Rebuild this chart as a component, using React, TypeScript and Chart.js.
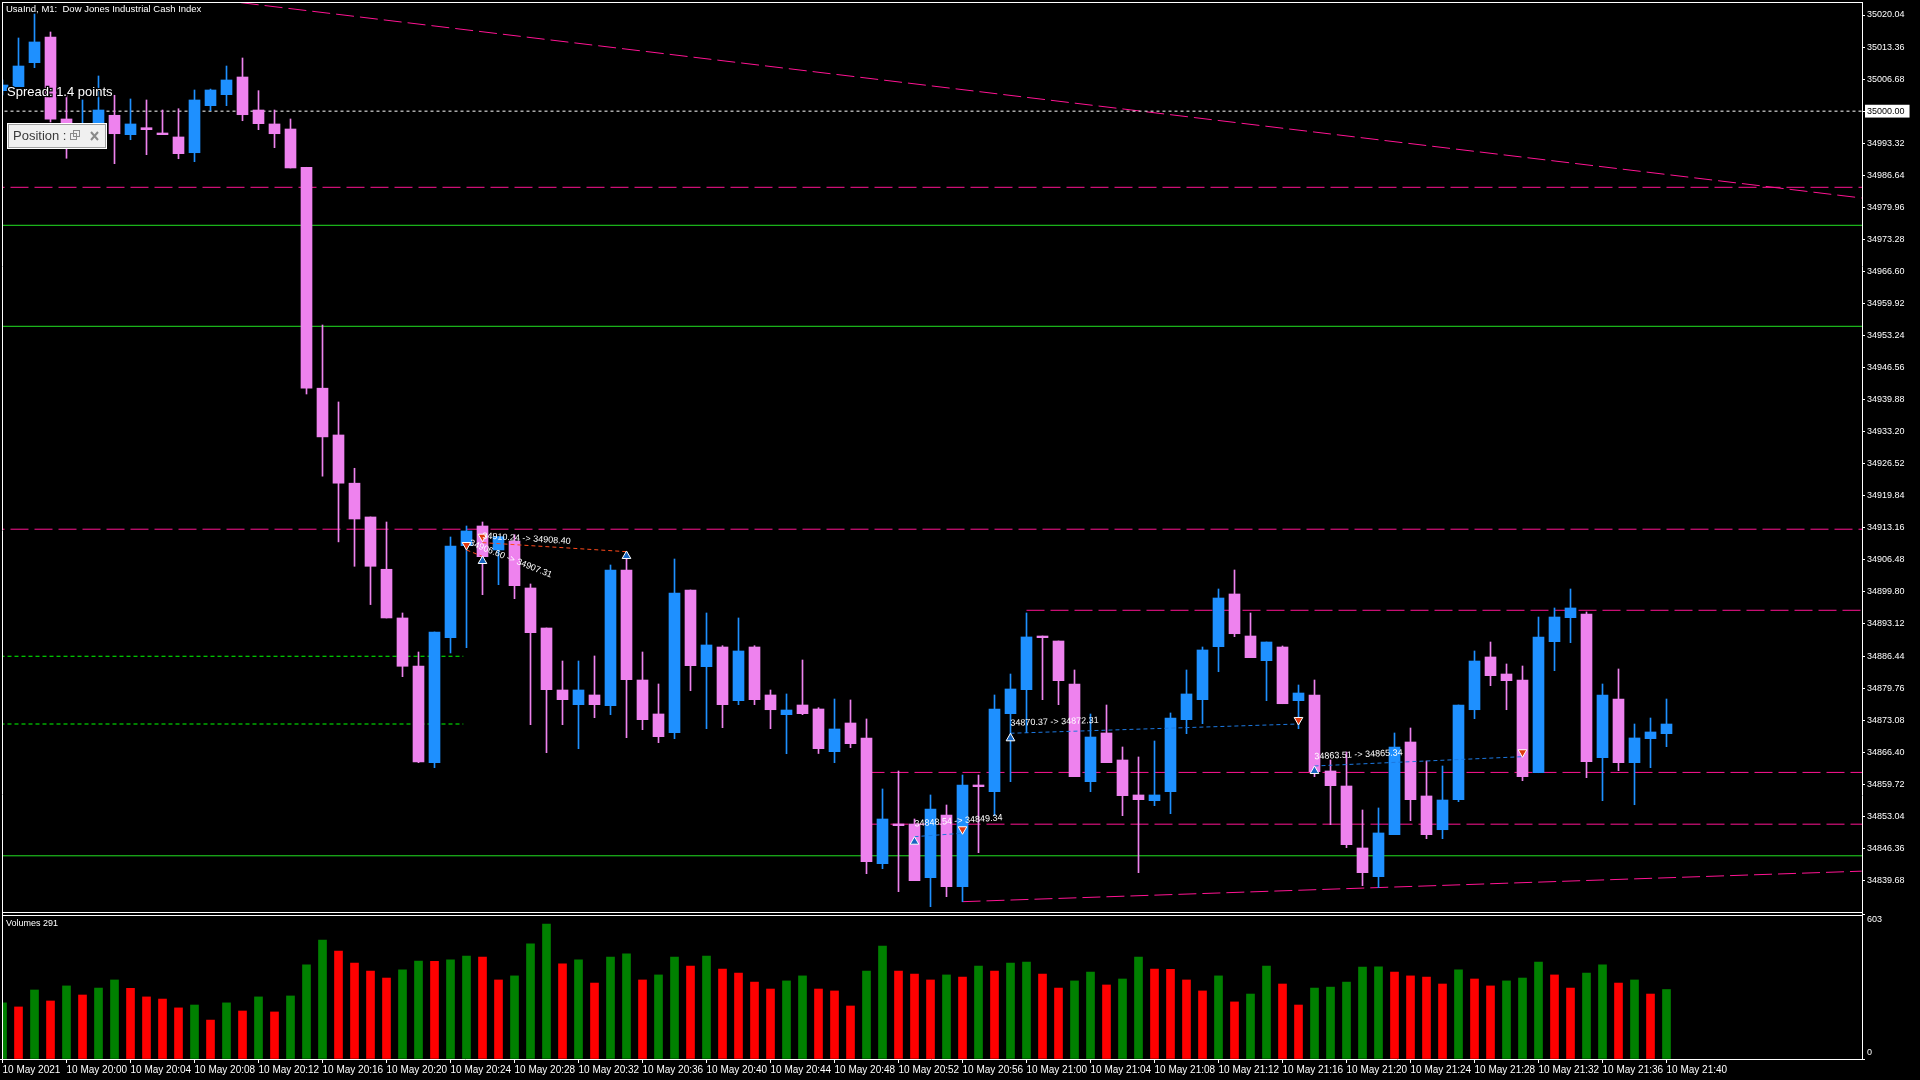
import { useEffect, useRef } from "react";
import { Chart, registerables } from "chart.js";

Chart.register(...registerables);

// time axis: one label every 4 one-minute bars
const timeLabels = [
  "10 May 2021", "10 May 20:00", "10 May 20:04", "10 May 20:08", "10 May 20:12", "10 May 20:16",
  "10 May 20:20", "10 May 20:24", "10 May 20:28", "10 May 20:32", "10 May 20:36", "10 May 20:40",
  "10 May 20:44", "10 May 20:48", "10 May 20:52", "10 May 20:56", "10 May 21:00", "10 May 21:04",
  "10 May 21:08", "10 May 21:12", "10 May 21:16", "10 May 21:20", "10 May 21:24", "10 May 21:28",
  "10 May 21:32", "10 May 21:36", "10 May 21:40",
];
const labelEvery = 4;

// M1 bars, 19:56 .. 21:40
const openP = [
  35004.27, 35005.10, 35010.10, 35015.46, 34998.37, 34993.99, 34996.49, 34999.14, 34995.10, 34996.55,
  34995.45, 34994.62, 34991.34, 35001.14, 35003.43, 35007.12, 35000.24, 34997.33, 34996.28, 34988.30,
  34942.26, 34932.51, 34922.46, 34915.42, 34904.52, 34894.37, 34884.36, 34864.21, 34890.26, 34909.44,
  34913.54, 34908.54, 34910.41, 34900.62, 34892.28, 34879.36, 34876.30, 34878.32, 34876.09, 34904.37,
  34881.44, 34874.36, 34870.46, 34900.20, 34884.22, 34888.32, 34877.13, 34888.32, 34878.32, 34874.21,
  34876.23, 34875.40, 34866.50, 34872.48, 34869.36, 34843.16, 34851.43, 34851.43, 34840.24, 34853.31,
  34838.36, 34859.56, 34858.16, 34874.42, 34879.42, 34890.61, 34889.57, 34880.61, 34860.25, 34870.40,
  34864.77, 34857.48, 34856.29, 34858.16, 34873.17, 34877.34, 34888.39, 34899.37, 34890.61, 34885.47,
  34888.32, 34877.13, 34878.32, 34862.48, 34859.35, 34846.43, 34840.45, 34849.20, 34868.52, 34857.27,
  34850.24, 34856.50, 34875.25, 34886.24, 34882.69, 34881.44, 34862.12, 34889.43, 34894.43, 34895.20,
  34865.25, 34877.48, 34864.21, 34869.21, 34870.25,
];
const highP = [
  35006.50, 35015.25, 35020.25, 35016.50, 35003.52, 35002.33, 35007.33, 35003.31, 35002.54, 35002.33,
  35000.24, 35000.51, 35004.41, 35004.60, 35009.41, 35011.08, 35004.27, 35000.24, 34998.37, 34988.30,
  34955.43, 34939.39, 34925.57, 34915.42, 34914.37, 34895.41, 34887.28, 34891.45, 34911.25, 34913.54,
  34914.37, 34911.31, 34911.73, 34901.45, 34892.28, 34885.40, 34885.40, 34886.45, 34905.41, 34907.50,
  34887.28, 34880.61, 34906.66, 34900.20, 34895.41, 34888.59, 34894.37, 34888.59, 34879.36, 34878.53,
  34885.61, 34875.67, 34877.48, 34877.28, 34873.32, 34858.73, 34862.48, 34852.47, 34857.48, 34855.39,
  34861.64, 34861.64, 34878.32, 34882.69, 34895.41, 34890.61, 34889.57, 34883.53, 34874.36, 34876.23,
  34867.48, 34865.40, 34868.73, 34874.57, 34883.53, 34888.32, 34900.41, 34904.37, 34895.41, 34889.36,
  34888.53, 34880.40, 34881.44, 34864.77, 34866.44, 34854.35, 34854.77, 34870.40, 34871.44, 34864.56,
  34863.52, 34876.23, 34887.49, 34889.36, 34884.78, 34884.36, 34894.57, 34896.45, 34900.41, 34895.62,
  34880.61, 34883.74, 34872.27, 34873.52, 34877.48,
];
const lowP = [
  35003.37, 35005.10, 35009.06, 34997.74, 34990.18, 34992.95, 34995.66, 34989.05, 34994.05, 34990.93,
  34995.10, 34990.09, 34989.47, 35000.10, 35001.14, 34998.01, 34996.14, 34992.39, 34988.16, 34941.05,
  34923.92, 34910.23, 34905.14, 34897.16, 34894.37, 34882.13, 34864.21, 34863.17, 34887.07, 34888.18,
  34899.22, 34901.31, 34898.39, 34872.13, 34866.29, 34872.13, 34867.13, 34873.59, 34874.21, 34869.42,
  34871.09, 34868.38, 34869.21, 34879.21, 34871.30, 34871.50, 34876.30, 34876.30, 34871.30, 34866.08,
  34874.21, 34866.12, 34864.21, 34867.34, 34841.07, 34842.12, 34837.32, 34839.62, 34834.20, 34836.28,
  34835.24, 34845.45, 34853.16, 34860.25, 34870.46, 34877.34, 34876.30, 34861.29, 34858.16, 34864.21,
  34853.16, 34841.28, 34855.25, 34853.58, 34870.25, 34872.34, 34883.17, 34890.47, 34886.09, 34877.13,
  34876.50, 34871.30, 34861.29, 34851.29, 34846.49, 34838.57, 34838.16, 34849.20, 34852.12, 34848.37,
  34848.37, 34856.08, 34873.38, 34880.26, 34875.25, 34860.46, 34862.12, 34883.38, 34889.22, 34861.08,
  34856.29, 34862.54, 34855.45, 34863.17, 34867.54,
];
const closeP = [
  35005.45, 35009.41, 35014.42, 34998.31, 34996.49, 34997.12, 35000.24, 34995.30, 34997.33, 34996.14,
  34995.10, 34991.14, 35002.33, 35004.41, 35006.50, 34999.26, 34997.39, 34995.30, 34988.16, 34942.26,
  34932.11, 34922.46, 34915.00, 34905.14, 34894.37, 34884.30, 34864.35, 34891.45, 34909.37, 34912.50,
  34907.14, 34911.31, 34901.10, 34891.30, 34879.42, 34877.34, 34879.36, 34876.30, 34904.37, 34881.51,
  34873.17, 34869.63, 34899.58, 34884.43, 34888.74, 34876.30, 34887.49, 34877.34, 34875.25, 34875.19,
  34874.42, 34867.13, 34871.23, 34868.17, 34843.57, 34852.47, 34851.08, 34839.62, 34854.56, 34838.36,
  34859.56, 34859.21, 34875.40, 34879.57, 34890.41, 34890.26, 34881.30, 34861.29, 34869.56, 34864.21,
  34857.33, 34856.50, 34857.48, 34873.52, 34878.53, 34887.70, 34898.53, 34891.09, 34886.09, 34889.36,
  34876.50, 34878.73, 34862.33, 34859.42, 34847.12, 34841.28, 34849.56, 34867.48, 34856.50, 34849.20,
  34856.43, 34876.23, 34885.40, 34882.34, 34881.30, 34861.29, 34890.41, 34894.57, 34896.45, 34864.42,
  34878.32, 34864.21, 34869.36, 34870.61, 34872.27,
];
const volumes = [
  235, 218, 289, 243, 306, 268, 297, 331, 296, 260,
  251, 214, 226, 163, 235, 201, 260, 197, 264, 394,
  498, 452, 402, 368, 339, 373, 410, 409, 415, 431,
  427, 331, 348, 482, 565, 398, 415, 318, 427, 440,
  331, 352, 427, 389, 431, 377, 360, 322, 293, 327,
  348, 293, 285, 222, 368, 473, 368, 356, 331, 352,
  343, 389, 368, 402, 406, 356, 297, 327, 364, 310,
  335, 427, 377, 376, 331, 285, 348, 239, 272, 389,
  314, 226, 297, 301, 322, 385, 386, 364, 348, 343,
  314, 373, 335, 306, 327, 339, 406, 352, 297, 360,
  394, 318, 331, 272, 291,
];

const priceTicks = [
  35020.04, 35013.36, 35006.68, 35000.0, 34993.32, 34986.64, 34979.96, 34973.28, 34966.6, 34959.92,
  34953.24, 34946.56, 34939.88, 34933.2, 34926.52, 34919.84, 34913.16, 34906.48, 34899.8, 34893.12,
  34886.44, 34879.76, 34873.08, 34866.4, 34859.72, 34853.04, 34846.36, 34839.68,
];
const volumeTicks = [603, 0];
const bidPrice = 35000.0;

// chart objects
const dashedLevels = [34984.13, 34912.87];
const shortDashedLevels = [34895.97, 34862.18, 34851.39];
const shortDashedFrom = [64, 54, 54];
const greenLevels = [34976.21, 34955.16, 34844.8];
const stopLevels = [34886.39, 34872.27];
const stopLevelsEnd = 28.8;
const topTrend = [{ x: 0, y: 35028.6 }, { x: 116.2, y: 34981.9 }];
const bottomTrend = [{ x: 60, y: 34835.24 }, { x: 116.2, y: 34841.6 }];

// trade history
const tradeFrom = [[30, 34910.07], [29, 34908.54], [57, 34848.79], [63, 34870.34], [82, 34863.52]];
const tradeTo = [[39, 34908.19], [30, 34907.2], [60, 34849.5], [81, 34872.27], [95, 34865.46]];
const tradeSide = ["sell", "sell", "buy", "buy", "buy"];
const tradeTexts = [
  "34910.24 -> 34908.40", "34906.60 -> 34907.31", "34848.54 -> 34849.34",
  "34870.37 -> 34872.31", "34863.51 -> 34865.34",
];
const tradeTextAt = [[30, 34911.46], [29.2, 34910.1], [57, 34851.43], [63, 34872.42], [82, 34865.46]];
const buyMarks = [[30, 34906.24], [39, 34907.29], [57, 34847.74], [63, 34869.29], [82, 34862.48]];
const sellMarks = [[29, 34909.58], [30, 34911.31], [60, 34850.33], [81, 34873.11], [95, 34866.38]];

const FAM = "'Liberation Sans', Arial, sans-serif";
const MAGENTA = "#ff1493";
const GREEN = "#22e022";

// no automatic label padding: the plot starts right at the frame
const noPadding = (s: any) => {
  s.paddingLeft = 0;
  s.paddingRight = 0;
  s.paddingTop = 0;
  s.paddingBottom = 0;
};

const overlay = {
  id: "mtOverlay",
  beforeDraw(chart: any) {
    const { ctx, width, height } = chart;
    ctx.save();
    ctx.fillStyle = "#000";
    ctx.fillRect(0, 0, width, height);
    ctx.restore();
  },
  afterDatasetsDraw(chart: any) {
    const { ctx, scales } = chart;
    const xs = scales.x;
    const ys = scales.y;
    ctx.save();
    ctx.font = `9px ${FAM}`;
    ctx.fillStyle = "#fff";
    ctx.textBaseline = "middle";
    ctx.textAlign = "left";
    tradeTexts.forEach((t, k) => {
      const [fx, fy] = tradeFrom[k];
      const [tx, ty] = tradeTo[k];
      const ang = Math.atan2(
        ys.getPixelForValue(ty) - ys.getPixelForValue(fy),
        xs.getPixelForValue(tx) - xs.getPixelForValue(fx)
      );
      const [ax, ay] = tradeTextAt[k];
      ctx.save();
      ctx.translate(xs.getPixelForValue(ax), ys.getPixelForValue(ay));
      ctx.rotate(ang);
      ctx.fillText(t, 0, 0);
      ctx.restore();
    });
    ctx.restore();
  },
  afterDraw(chart: any) {
    const { ctx, chartArea, scales } = chart;
    const yv = scales.yv;
    const volTop = Math.round(yv.getPixelForValue(volumeTicks[0]));
    const mainBottom = volTop - 3;
    const L = chartArea.left + 2;
    const R = chartArea.right;
    ctx.save();
    ctx.fillStyle = "#000";
    ctx.fillRect(0, 0, L, chartArea.bottom);
    ctx.fillRect(L, mainBottom, R - L, 3);

    ctx.strokeStyle = "#fff";
    ctx.lineWidth = 1;
    ctx.beginPath();
    ctx.moveTo(L, chartArea.top + 0.5);
    ctx.lineTo(R, chartArea.top + 0.5);
    ctx.moveTo(L + 0.5, chartArea.top);
    ctx.lineTo(L + 0.5, chartArea.bottom);
    ctx.moveTo(L, mainBottom + 0.5);
    ctx.lineTo(R, mainBottom + 0.5);
    ctx.moveTo(L, volTop + 0.5);
    ctx.lineTo(R, volTop + 0.5);
    ctx.stroke();

    // header texts
    ctx.fillStyle = "#fff";
    ctx.textBaseline = "middle";
    ctx.textAlign = "left";
    ctx.font = `9.5px ${FAM}`;
    ctx.fillText("UsaInd, M1:  Dow Jones Industrial Cash Index", 6, 9);
    ctx.font = `9px ${FAM}`;
    ctx.fillText(`Volumes ${volumes[volumes.length - 1]}`, 6, volTop + 9);

    ctx.font = `13px ${FAM}`;
    ctx.lineWidth = 2.5;
    ctx.strokeStyle = "#000";
    ctx.strokeText("Spread: 1.4 points", 7, 92);
    ctx.fillStyle = "#fff";
    ctx.fillText("Spread: 1.4 points", 7, 92);

    // position panel
    ctx.fillStyle = "#f0f0f0";
    ctx.fillRect(7, 123, 100, 26);
    ctx.strokeStyle = "#ffffff";
    ctx.lineWidth = 1;
    ctx.strokeRect(7.5, 123.5, 99, 25);
    ctx.strokeStyle = "#a0a0a0";
    ctx.strokeRect(8.5, 124.5, 97, 23);
    ctx.fillStyle = "#3a3a3a";
    ctx.font = `13px ${FAM}`;
    ctx.fillText("Position :", 13, 136.5);
    ctx.strokeStyle = "#8a8a8a";
    ctx.strokeRect(70.5, 133.5, 6, 6);
    ctx.strokeRect(73.5, 130.5, 6, 6);
    ctx.lineWidth = 2;
    ctx.beginPath();
    ctx.moveTo(91, 132);
    ctx.lineTo(98, 140);
    ctx.moveTo(98, 132);
    ctx.lineTo(91, 140);
    ctx.stroke();

    // volume pane scale labels
    ctx.fillStyle = "#fff";
    ctx.font = `9px ${FAM}`;
    ctx.fillText(String(volumeTicks[0]), R + 5, yv.getPixelForValue(volumeTicks[0]) + 5);
    ctx.fillText(String(volumeTicks[1]), R + 5, yv.getPixelForValue(volumeTicks[1]) - 6);
    ctx.restore();
  },
};

export default function App() {
  const canvasRef = useRef<HTMLCanvasElement | null>(null);

  useEffect(() => {
    if (!canvasRef.current) return;

    const candleColor = openP.map((o, i) => (closeP[i] >= o ? "#1e90ff" : "#ee82ee"));
    const volColor = volumes.map((v, i) => (i === 0 || v >= volumes[i - 1] ? "#008000" : "#ff0000"));

    const line = (data: any[], color: string, dash: number[], order: number) => ({
      type: "line",
      data,
      borderColor: color,
      borderWidth: 1,
      borderDash: dash,
      pointRadius: 0,
      tension: 0,
      yAxisID: "y",
      order,
    });

    const levels = [
      ...dashedLevels.map((p) => line([{ x: -1, y: p }, { x: 118, y: p }], MAGENTA, [18, 6], 4)),
      ...shortDashedLevels.map((p, k) => line([{ x: shortDashedFrom[k], y: p }, { x: 118, y: p }], MAGENTA, [18, 6], 4)),
      ...greenLevels.map((p) => line([{ x: -1, y: p }, { x: 118, y: p }], GREEN, [], 4)),
      ...stopLevels.map((p) => line([{ x: -1, y: p }, { x: stopLevelsEnd, y: p }], "#00ff00", [4, 3], 4)),
      line([{ x: -1, y: bidPrice }, { x: 118, y: bidPrice }], "#ffffff", [3, 3], 4),
      line(topTrend, MAGENTA, [18, 6], 4),
      line(bottomTrend, MAGENTA, [18, 6], 4),
    ];

    const trades = tradeFrom.map((f, k) =>
      line(
        [{ x: f[0], y: f[1] }, { x: tradeTo[k][0], y: tradeTo[k][1] }],
        tradeSide[k] === "sell" ? "#ff4a1c" : "#1c78e0",
        [4, 3],
        1
      )
    );

    const chart = new Chart(canvasRef.current, {
      type: "bar",
      data: {
        datasets: [
          ...(trades as any[]),
          {
            type: "line",
            data: buyMarks.map(([x, y]) => ({ x, y })),
            showLine: false,
            pointStyle: "triangle",
            pointRadius: 5,
            pointRotation: 0,
            pointBackgroundColor: "#1565c0",
            pointBorderColor: "#ffffff",
            pointBorderWidth: 1,
            yAxisID: "y",
            order: 0,
          },
          {
            type: "line",
            data: sellMarks.map(([x, y]) => ({ x, y })),
            showLine: false,
            pointStyle: "triangle",
            pointRadius: 5,
            pointRotation: 180,
            pointBackgroundColor: "#e03a12",
            pointBorderColor: "#ffffff",
            pointBorderWidth: 1,
            yAxisID: "y",
            order: 0,
          },
          {
            type: "bar",
            data: openP.map((o, i) => ({ x: i, y: [o, closeP[i]] })),
            backgroundColor: candleColor,
            barThickness: 11,
            minBarLength: 1,
            grouped: false,
            yAxisID: "y",
            order: 2,
          },
          {
            type: "bar",
            data: lowP.map((l, i) => ({ x: i, y: [l, highP[i]] })),
            backgroundColor: candleColor,
            barThickness: 1,
            grouped: false,
            yAxisID: "y",
            order: 3,
          },
          {
            type: "bar",
            data: volumes.map((v, i) => ({ x: i, y: v })),
            backgroundColor: volColor,
            barThickness: 8,
            grouped: false,
            yAxisID: "yv",
            order: 3,
          },
          ...(levels as any[]),
        ] as any,
      },
      options: {
        animation: false,
        responsive: false,
        devicePixelRatio: 1,
        events: [],
        layout: { autoPadding: false, padding: { top: 2, left: 0, right: 0, bottom: 0 } },
        plugins: { legend: { display: false }, tooltip: { enabled: false } },
        scales: {
          x: {
            type: "linear",
            min: -2.5 / 16,
            max: (1862 - 2.5) / 16,
            offset: false,
            afterFit: (s: any) => {
              s.height = 21;
              noPadding(s);
            },
            afterBuildTicks: (s: any) => {
              s.ticks = timeLabels.map((_, k) => ({ value: k * labelEvery }));
            },
            ticks: {
              autoSkip: false,
              maxRotation: 0,
              align: "start",
              color: "#ffffff",
              padding: 1,
              font: { family: FAM, size: 10 },
              callback: (v: any) => timeLabels[Math.round(Number(v) / labelEvery)],
            },
            grid: { offset: false, drawOnChartArea: false, drawTicks: true, tickLength: 4, color: "#ffffff" },
            border: { display: true, color: "#ffffff" },
          },
          y: {
            type: "linear",
            position: "right",
            weight: 1,
            min: 34802.45,
            max: 35022.75,
            beginAtZero: false,
            afterFit: (s: any) => {
              s.width = 58;
              noPadding(s);
            },
            afterBuildTicks: (s: any) => {
              s.ticks = priceTicks.map((v) => ({ value: v }));
            },
            ticks: {
              padding: 2,
              font: { family: FAM, size: 9 },
              callback: (v: any) => Number(v).toFixed(2),
              color: (c: any) => (Math.abs(c.tick.value - bidPrice) < 0.001 ? "#000000" : "#ffffff"),
              showLabelBackdrop: (c: any) => Math.abs(c.tick.value - bidPrice) < 0.001,
              backdropColor: "#ffffff",
              backdropPadding: { top: 1, bottom: 1, left: 2, right: 5 },
            },
            grid: { drawOnChartArea: false, drawTicks: true, tickLength: 3, color: "#ffffff" },
            border: { display: true, color: "#ffffff" },
          },
          yv: {
            type: "linear",
            position: "right",
            weight: 0,
            min: 0,
            max: 4426,
            beginAtZero: true,
            afterFit: (s: any) => {
              s.width = 0;
              noPadding(s);
            },
            afterBuildTicks: (s: any) => {
              s.ticks = volumeTicks.map((v) => ({ value: v }));
            },
            ticks: { display: false },
            grid: { drawOnChartArea: false, drawTicks: true, tickLength: 3, color: "#ffffff" },
            border: { display: false },
          },
        },
      } as any,
      plugins: [overlay],
    });

    return () => {
      chart.destroy();
    };
  }, []);

  return (
    <canvas
      ref={canvasRef}
      width={1920}
      height={1080}
      style={{ position: "fixed", left: 0, top: 0, width: 1920, height: 1080, background: "#000" }}
    />
  );
}
